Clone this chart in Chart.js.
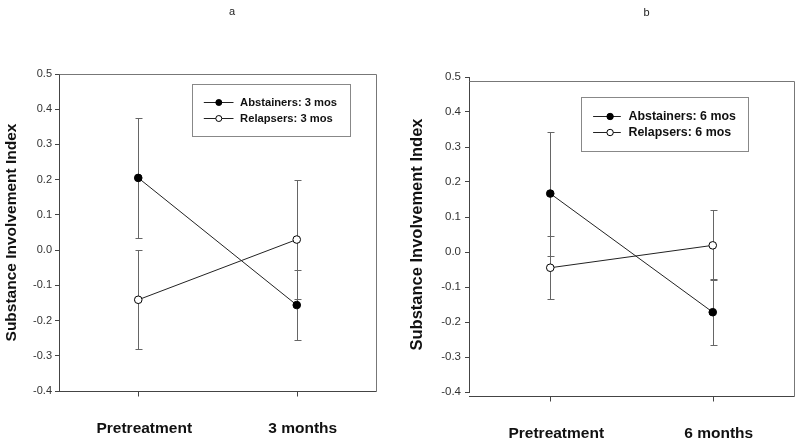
<!DOCTYPE html>
<html>
<head>
<meta charset="utf-8">
<script src="https://cdn.jsdelivr.net/npm/chart.js@4.4.0/dist/chart.umd.min.js"></script>
<style>
  html, body { margin: 0; padding: 0; background: #fff; }
  .row { display: flex; width: 800px; height: 443px; }
  canvas { display: block; }
</style>
</head>
<body>
<div class="row">
  <canvas id="chartA" width="400" height="443"></canvas>
  <canvas id="chartB" width="400" height="443"></canvas>
</div>
<script>
// data
const categoriesA = ['Pretreatment', '3 months'];
const categoriesB = ['Pretreatment', '6 months'];
const yTicks = [-0.4, -0.3, -0.2, -0.1, 0.0, 0.1, 0.2, 0.3, 0.4, 0.5];

const abstainers3 = [0.205, -0.156];
const abstainers3Err = [0.17, 0.10];
const relapsers3 = [-0.141, 0.030];
const relapsers3Err = [0.141, 0.17];

const abstainers6 = [0.167, -0.172];
const abstainers6Err = [0.177, 0.094];
const relapsers6 = [-0.045, 0.019];
const relapsers6Err = [0.09, 0.10];

const yTitle = 'Substance Involvement Index';
const FONT = 'Arial, "Liberation Sans", Helvetica, sans-serif';

// frame around plot area (top, right, bottom) + x tick marks
const framePlugin = {
  id: 'frame',
  beforeDatasetsDraw(chart, args, opts) {
    const { ctx, chartArea } = chart;
    const xs = chart.scales.x;
    const d = opts.shift || 0;
    const l = Math.round(chartArea.left) + 0.5;
    const r = Math.round(chartArea.right) + 0.5;
    const t = Math.round(chartArea.top + d) + 0.5;
    const b = Math.round(chartArea.bottom + d) + 0.5;
    ctx.save();
    ctx.lineWidth = 1;
    ctx.strokeStyle = '#777';
    ctx.beginPath();
    ctx.moveTo(l, t); ctx.lineTo(r, t); ctx.lineTo(r, b);
    ctx.stroke();
    ctx.strokeStyle = '#444';
    ctx.beginPath();
    ctx.moveTo(l - 0.5, b); ctx.lineTo(r, b);
    xs.ticks.forEach((tk, i) => {
      const px = Math.round(xs.getPixelForTick(i)) + 0.5;
      ctx.moveTo(px, b); ctx.lineTo(px, b + 5);
    });
    ctx.stroke();
    ctx.restore();
  }
};

// vertical error bars with caps
const errorBarPlugin = {
  id: 'errorBars',
  beforeDatasetsDraw(chart) {
    const { ctx } = chart;
    const ys = chart.scales.y;
    ctx.save();
    ctx.strokeStyle = '#666';
    ctx.lineWidth = 1;
    chart.data.datasets.forEach((ds, di) => {
      const meta = chart.getDatasetMeta(di);
      meta.data.forEach((pt, i) => {
        const e = ds.errors[i];
        const v = ds.data[i];
        const x = Math.round(pt.x) + 0.5;
        const y1 = Math.round(ys.getPixelForValue(v + e)) + 0.5;
        const y2 = Math.round(ys.getPixelForValue(v - e)) + 0.5;
        ctx.beginPath();
        ctx.moveTo(x, y1); ctx.lineTo(x, y2);
        ctx.moveTo(x - 3, y1); ctx.lineTo(x + 4, y1);
        ctx.moveTo(x - 3, y2); ctx.lineTo(x + 4, y2);
        ctx.stroke();
      });
    });
    ctx.restore();
  }
};

// legend box inside the plot area
const boxLegendPlugin = {
  id: 'boxLegend',
  afterDraw(chart, args, opts) {
    const { ctx, chartArea } = chart;
    const w = chartArea.right - chartArea.left;
    const h = chartArea.bottom - chartArea.top;
    const x0 = Math.round(chartArea.left + opts.x0 * w) + 0.5;
    const x1 = Math.round(chartArea.left + opts.x1 * w) + 0.5;
    const y0 = Math.round(chartArea.top + opts.y0 * h) + 0.5;
    const y1 = Math.round(chartArea.top + opts.y1 * h) + 0.5;
    ctx.save();
    ctx.fillStyle = '#fff';
    ctx.fillRect(x0, y0, x1 - x0, y1 - y0);
    ctx.strokeStyle = '#888';
    ctx.lineWidth = 1;
    ctx.strokeRect(x0, y0, x1 - x0, y1 - y0);
    chart.data.datasets.forEach((ds, i) => {
      const y = Math.round(y0 + opts.rows[i]) + 0.5;
      ctx.strokeStyle = '#222';
      ctx.beginPath();
      ctx.moveTo(x0 + opts.lineFrom, y);
      ctx.lineTo(x0 + opts.lineTo, y);
      ctx.stroke();
      ctx.beginPath();
      ctx.arc(x0 + opts.marker, y, opts.radius, 0, Math.PI * 2);
      ctx.fillStyle = ds.pointBackgroundColor;
      ctx.fill();
      ctx.strokeStyle = '#000';
      ctx.stroke();
      ctx.fillStyle = '#111';
      ctx.font = 'bold ' + opts.fontSize + 'px ' + FONT;
      ctx.textBaseline = 'middle';
      ctx.textAlign = 'left';
      ctx.fillText(ds.label, x0 + opts.text, y + 0.5);
    });
    ctx.restore();
  }
};

// small panel letter above the plot
const panelLabelPlugin = {
  id: 'panelLabel',
  afterDraw(chart, args, opts) {
    const { ctx, chartArea } = chart;
    ctx.save();
    ctx.fillStyle = '#222';
    ctx.font = '11px ' + FONT;
    ctx.textAlign = 'center';
    ctx.textBaseline = 'middle';
    ctx.fillText(opts.text, chartArea.left + opts.frac * (chartArea.right - chartArea.left), opts.y);
    ctx.restore();
  }
};

function makeDataset(label, values, errors, filled) {
  return {
    label: label,
    data: values,
    errors: errors,
    borderColor: '#222',
    borderWidth: 1,
    pointRadius: 3.8,
    pointBorderWidth: 1,
    pointBorderColor: '#000',
    pointBackgroundColor: filled ? '#000' : '#fff',
    tension: 0,
    fill: false
  };
}

function makeChart(id, cfg) {
  const ctx = document.getElementById(id).getContext('2d');
  return new Chart(ctx, {
    type: 'line',
    data: {
      labels: cfg.labels,
      datasets: cfg.datasets
    },
    options: {
      responsive: false,
      animation: false,
      devicePixelRatio: 1,
      layout: { padding: { top: cfg.top, right: cfg.right, left: 0, bottom: 0 } },
      plugins: {
        legend: { display: false },
        tooltip: { enabled: false },
        frame: { shift: cfg.shift },
        boxLegend: cfg.legend,
        panelLabel: { text: cfg.letter, frac: 0.546, y: cfg.letterY }
      },
      scales: {
        x: {
          type: 'category',
          offset: true,
          border: { display: false },
          grid: { display: false },
          ticks: {
            color: '#111',
            font: { family: FONT, size: 15.5, weight: 'bold' },
            padding: cfg.xPad,
            labelOffset: 6,
            maxRotation: 0
          },
          afterFit: s => { s.height = cfg.xHeight; }
        },
        y: {
          min: -0.4,
          max: 0.5,
          border: { display: true, color: '#444', width: 1 },
          grid: { drawOnChartArea: false, drawTicks: true, tickLength: 4, color: '#444' },
          ticks: {
            color: '#333',
            font: { family: FONT, size: cfg.tickSize },
            padding: cfg.yPad,
            callback: v => Number(v).toFixed(1)
          },
          afterBuildTicks: s => { s.ticks = yTicks.map(v => ({ value: v })); },
          title: {
            display: true,
            text: yTitle,
            color: '#111',
            font: { family: FONT, size: cfg.titleSize, weight: 'bold' },
            padding: { top: cfg.titlePad, bottom: 0 }
          },
          afterFit: s => { s.width = cfg.yWidth; }
        }
      }
    },
    plugins: [framePlugin, errorBarPlugin, boxLegendPlugin, panelLabelPlugin]
  });
}

makeChart('chartA', {
  labels: categoriesA,
  datasets: [
    makeDataset('Abstainers: 3 mos', abstainers3, abstainers3Err, true),
    makeDataset('Relapsers: 3 mos', relapsers3, relapsers3Err, false)
  ],
  top: 74, right: 24, yWidth: 59, xHeight: 52, xPad: 20,
  shift: 0, tickSize: 11, yPad: 3, titleSize: 15.5, titlePad: 2,
  letter: 'a', letterY: 12,
  legend: { x0: 0.419, x1: 0.918, y0: 0.031, y1: 0.195, rows: [17.3, 33.3],
            lineFrom: 11.3, lineTo: 41, marker: 26.3, text: 47.6, radius: 3, fontSize: 11.2 }
});

makeChart('chartB', {
  labels: categoriesB,
  datasets: [
    makeDataset('Abstainers: 6 mos', abstainers6, abstainers6Err, true),
    makeDataset('Relapsers: 6 mos', relapsers6, relapsers6Err, false)
  ],
  top: 77, right: 6, yWidth: 69, xHeight: 51, xPad: 24,
  shift: 4, tickSize: 11.5, yPad: 4, titleSize: 16.5, titlePad: 8,
  letter: 'b', letterY: 13,
  legend: { x0: 0.344, x1: 0.859, y0: 0.064, y1: 0.234, rows: [18, 34.4],
            lineFrom: 11.6, lineTo: 39.3, marker: 28.6, text: 47, radius: 3.2, fontSize: 12.4 }
});
</script>
</body>
</html>
